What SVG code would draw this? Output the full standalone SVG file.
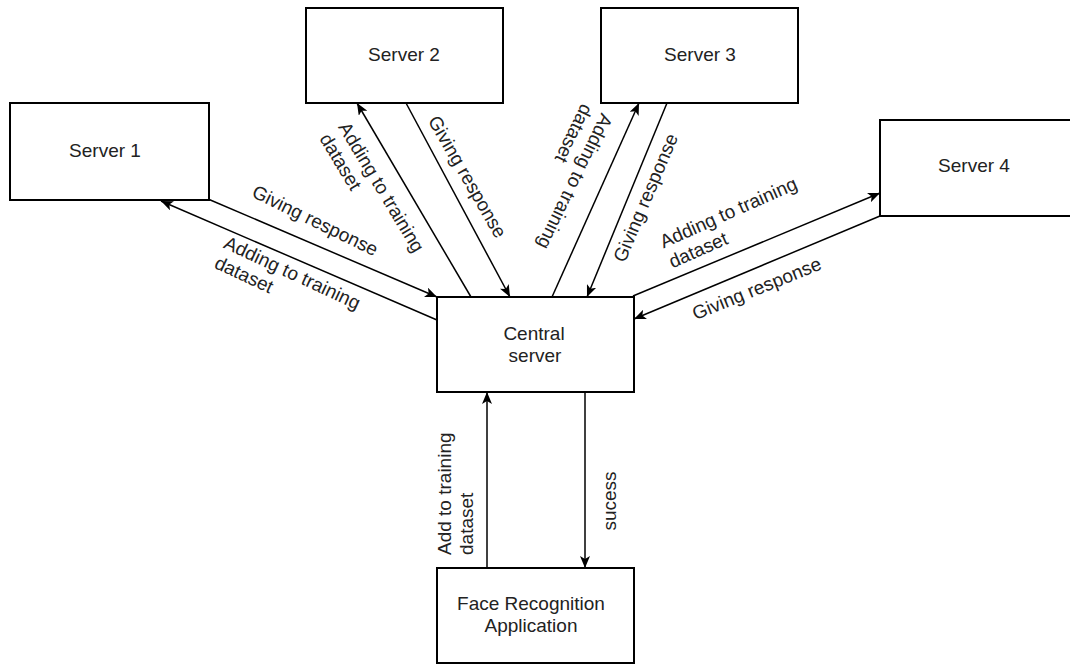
<svg xmlns="http://www.w3.org/2000/svg" width="1070" height="666" viewBox="0 0 1070 666">
<style>
.box{fill:#fff;stroke:#000;stroke-width:2}
.lbl{font-family:"Liberation Sans",Arial,Helvetica,sans-serif;font-size:19px;fill:#222}
.c{text-anchor:middle}
.conn line{stroke:#000;stroke-width:1.5;fill:none;marker-end:url(#arr)}
</style>
<defs>
<marker id="arr" viewBox="0 0 12 10" refX="12" refY="5" markerWidth="12" markerHeight="10" markerUnits="userSpaceOnUse" orient="auto">
<path d="M0,0 L12,5 L0,10 L3,5 Z" fill="#000"/>
</marker>
</defs>
<rect width="1070" height="666" fill="#fff"/>
<g id="server1"><rect class="box" x="10" y="103" width="199" height="97"/><text class="lbl c" x="105" y="157">Server 1</text></g>
<g id="server2"><rect class="box" x="306" y="8" width="197" height="95"/><text class="lbl c" x="404" y="61">Server 2</text></g>
<g id="server3"><rect class="box" x="601" y="8" width="197" height="95"/><text class="lbl c" x="700" y="61">Server 3</text></g>
<g id="server4"><rect class="box" x="880" y="120" width="197" height="96"/><text class="lbl c" x="974" y="172">Server 4</text></g>
<g id="central"><rect class="box" x="437" y="297" width="197" height="95"/><text class="lbl c" x="534" y="340">Central</text><text class="lbl c" x="535" y="362">server</text></g>
<g id="face"><rect class="box" x="437" y="568" width="197" height="95"/><text class="lbl c" x="531" y="610">Face Recognition</text><text class="lbl c" x="531" y="632">Application</text></g>
<g id="connectors" class="conn">
<line x1="208" y1="199" x2="437" y2="297"/>
<line x1="437" y1="320" x2="161" y2="201"/>
<line x1="471" y1="297" x2="357" y2="103"/>
<line x1="406" y1="103" x2="510" y2="297"/>
<line x1="552" y1="297" x2="639" y2="103"/>
<line x1="667" y1="103" x2="587" y2="297"/>
<line x1="633" y1="296" x2="880" y2="193"/>
<line x1="880" y1="216" x2="634" y2="319"/>
<line x1="487" y1="568" x2="487" y2="392"/>
<line x1="585" y1="392" x2="585" y2="568"/>
</g>
<g id="labels">
<text class="lbl c" transform="translate(315,221) rotate(26)" y="6">Giving response</text>
<g transform="translate(225,242) rotate(25)"><text class="lbl" y="6">Adding to training</text><text class="lbl" y="28">dataset</text></g>
<g transform="translate(343,124) rotate(59)"><text class="lbl" y="6">Adding to training</text><text class="lbl" y="28">dataset</text></g>
<text class="lbl c" transform="translate(467,177) rotate(60)" y="6">Giving response</text>
<g transform="translate(607,115) rotate(116)"><text class="lbl" y="6">Adding to training</text><text class="lbl" y="28">dataset</text></g>
<text class="lbl c" transform="translate(646,198) rotate(-67)" y="6">Giving response</text>
<g transform="translate(661,243) rotate(-24)"><text class="lbl" y="6">Adding to training</text><text class="lbl" y="28">dataset</text></g>
<text class="lbl c" transform="translate(757,289) rotate(-22)" y="6">Giving response</text>
<g transform="translate(445,555) rotate(-90)"><text class="lbl" y="6">Add to training</text><text class="lbl" y="28">dataset</text></g>
<text class="lbl c" transform="translate(610,501) rotate(-90)" y="6">sucess</text>
</g>
</svg>
